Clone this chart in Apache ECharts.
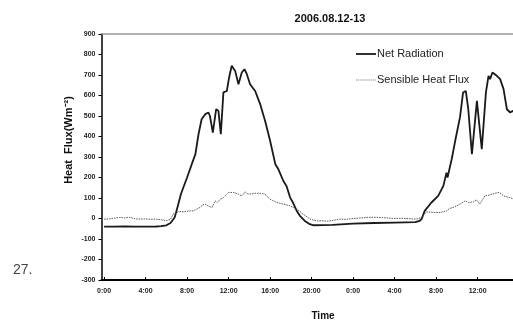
<!DOCTYPE html>
<html>
<head>
<meta charset="utf-8">
<script src="https://cdn.jsdelivr.net/npm/echarts@6/dist/echarts.min.js"></script>
<style>
html,body{margin:0;padding:0;background:#fff;}
#chart{width:513px;height:324px;}
</style>
</head>
<body>
<div id="chart"></div>
<script>
// ---- data (hours since 2006-08-12 00:00) ----
const chartTitle = '2006.08.12-13';
const seriesNames = ['Net Radiation', 'Sensible Heat Flux'];
const tickHours = [0, 4, 8, 12, 16, 20, 24, 28, 32, 36, 40, 44, 48];
const yTicks = [-300, -200, -100, 0, 100, 200, 300, 400, 500, 600, 700, 800, 900];

const netTime = [0,1,2,3,4,5,5.5,6,6.4,6.8,7.1,7.4,7.7,8.0,8.45,8.8,9.1,9.4,9.75,10.06,10.2,10.48,10.8,11.02,11.25,11.5,11.83,12.05,12.3,12.63,12.95,13.27,13.53,13.76,14.07,14.56,15.04,15.52,16.0,16.5,16.8,17.28,17.58,17.93,18.2,18.57,18.87,19.35,19.83,20.2,22,24,26,28,30,30.4,30.6,30.9,31.55,32.2,32.7,33.0,33.1,33.5,33.84,34.0,34.3,34.6,34.86,35.1,35.45,35.93,36.4,36.8,37.05,37.2,37.43,37.85,38.17,38.5,38.82,39.14,39.4,39.7];
const netValues = [-40,-40,-39,-40,-40,-39,-37,-33,-22,5,60,118,160,200,265,314,411,484,509,517,500,419,533,525,411,615,622,688,745,720,655,712,728,704,655,622,558,476,379,265,240,183,159,102,78,37,13,-12,-28,-33,-31,-25,-22,-20,-18,-12,-3,37,78,110,159,224,200,289,379,371,493,615,622,533,314,574,338,615,696,680,712,696,680,631,533,517,525,505];

const shTime = [0,0.5,1,1.5,2,2.5,3,3.5,4,4.5,5,5.5,6,6.4,6.7,7.0,7.3,7.8,8.2,8.6,9.0,9.25,9.5,9.74,10.0,10.4,10.7,10.9,11.2,11.5,11.8,12.0,12.5,12.95,13.27,13.6,13.8,14.07,14.56,15.04,15.5,16.0,16.65,17.3,17.9,18.6,19.2,19.86,20.5,21,21.5,22,22.7,23.3,24,24.6,25.3,26,26.6,27.2,27.9,28.5,29.2,29.7,30.1,30.6,31.07,31.7,32.4,33.0,33.3,33.65,34.0,34.3,34.8,35.1,35.6,35.9,36.2,36.7,37.1,37.66,38.1,38.5,39.1,39.5,40];
const shValues = [-3,-2,2,5,3,6,-2,-3,-2,-4,-3,-6,-10,-4,25,30,34,33,37,37,48,54,66,70,62,54,86,78,94,102,118,127,127,119,110,130,121,119,123,123,119,94,78,70,62,45,21,-3,-12,-11,-13,-10,-3,-4,0,2,5,6,5,3,0,1,0,-2,-3,5,32,30,29,37,49,54,62,70,86,78,81,91,70,110,114,123,127,110,102,94,92];

const netData = netTime.map((t, i) => [t, netValues[i]]);
const shData = shTime.map((t, i) => [t, shValues[i]]);

const narrow = "'Liberation Sans Narrow','Arial Narrow','Liberation Sans',Arial,sans-serif";
const sans = "'Liberation Sans',Arial,sans-serif";

// visible window: the original figure is cropped on the right edge
const xMin = -0.25, xMax = 39.41;

const chart = echarts.init(document.getElementById('chart'), null, {renderer: 'canvas'});
chart.setOption({
  animation: false,
  backgroundColor: '#ffffff',
  title: {
    text: chartTitle,
    left: 325, top: 8, textAlign: 'center',
    textStyle: {fontSize: 11, fontWeight: 'bold', color: '#111', fontFamily: sans}
  },
  legend: {
    data: [
      {name: seriesNames[0], icon: 'rect'},
      {name: seriesNames[1], icon: 'path://M0,0h1.2v1h-1.2zM2,0h1.2v1h-1.2zM4,0h1.2v1h-1.2zM6,0h1.2v1h-1.2zM8,0h1.2v1h-1.2zM10,0h1.2v1h-1.2zM12,0h1.2v1h-1.2zM14,0h1.2v1h-1.2zM16,0h1.2v1h-1.2zM18,0h1.2v1h-1.2z'}
    ],
    orient: 'vertical',
    left: 356, top: 48.5,
    itemWidth: 20, itemHeight: 1.8, itemGap: 15,
    textStyle: {fontSize: 11, color: '#222', fontFamily: sans, padding: [0, 0, 0, -4]},
    padding: 0
  },
  grid: {left: 101.5, right: 0, top: 34, bottom: 44, containLabel: false},
  xAxis: [{
    type: 'value', min: xMin, max: xMax,
    axisLine: {show: true, onZero: false, lineStyle: {color: '#000', width: 2}},
    axisTick: {show: true, inside: true, length: 3, customValues: tickHours, lineStyle: {color: '#000'}},
    axisLabel: {
      customValues: tickHours,
      formatter: v => (Math.round(v) % 24) + ':00',
      fontSize: 7, fontWeight: 'bold', color: '#222', fontFamily: narrow, margin: 8
    },
    splitLine: {show: false}
  }, {
    type: 'value', min: xMin, max: xMax, position: 'top',
    axisLine: {show: true, onZero: false, lineStyle: {color: '#999', width: 1.5}},
    axisTick: {show: false}, axisLabel: {show: false}, splitLine: {show: false}
  }],
  yAxis: {
    type: 'value', min: yTicks[0], max: yTicks[yTicks.length - 1], interval: 100,
    axisLine: {show: true, onZero: false, lineStyle: {color: '#000', width: 1.5}},
    axisTick: {show: true, length: 3, lineStyle: {color: '#000'}},
    axisLabel: {fontSize: 7, fontWeight: 'bold', color: '#222', fontFamily: narrow, margin: 6},
    splitLine: {show: false}
  },
  series: [{
    name: seriesNames[0], type: 'line', data: netData,
    symbol: 'none', showSymbol: false, clip: true,
    lineStyle: {color: '#1a1a1a', width: 1.8},
    itemStyle: {color: '#1a1a1a'}
  }, {
    name: seriesNames[1], type: 'line', data: shData,
    symbol: 'none', showSymbol: false, clip: true,
    lineStyle: {color: '#555', width: 1, type: [1.5, 1]},
    itemStyle: {color: '#888'}
  }],
  graphic: [{
    type: 'text', left: 13, top: 263,
    style: {text: '27.', fontSize: 14, fill: '#444', fontFamily: sans}
  }, {
    type: 'text', x: 69, y: 140, rotation: Math.PI / 2,
    style: {text: 'Heat  Flux(Wm\u207B\u00B2)', fontSize: 11, fontWeight: 'bold', fill: '#111', fontFamily: sans, align: 'center', verticalAlign: 'middle'}
  }, {
    type: 'text', x: 323, y: 316,
    style: {text: 'Time', fontSize: 10, fontWeight: 'bold', fill: '#111', fontFamily: sans, align: 'center', verticalAlign: 'middle'}
  }]
});
</script>
</body>
</html>
